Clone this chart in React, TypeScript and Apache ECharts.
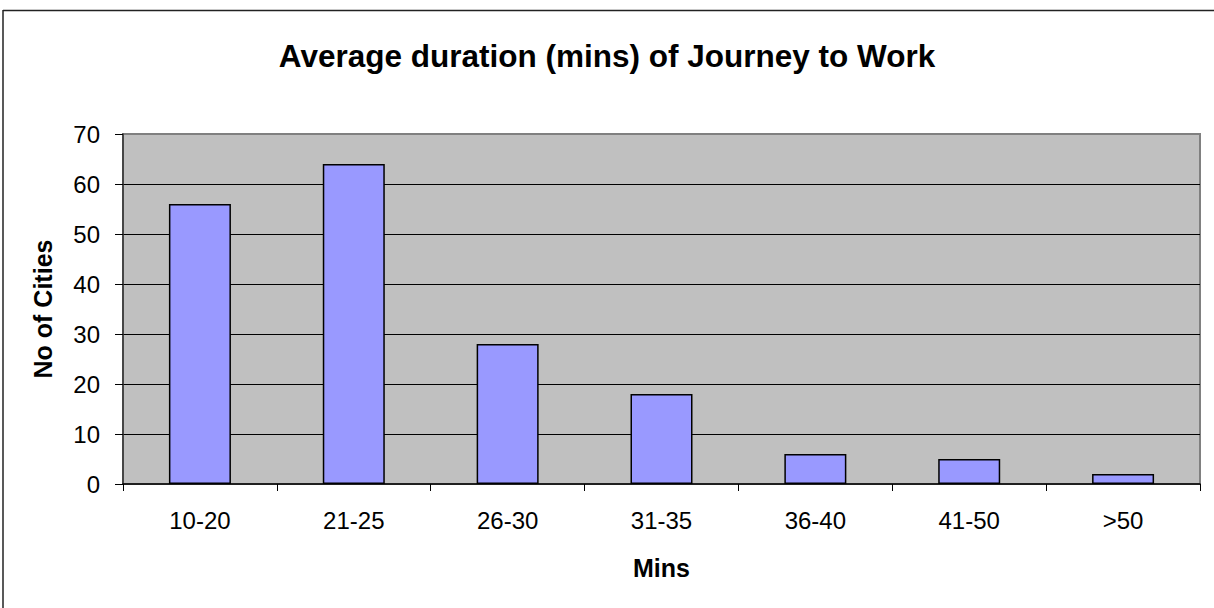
import React, { useEffect, useRef } from "react";
import * as echarts from "echarts";

const titleText = "Average duration (mins) of Journey to Work";
const categories = ["10-20", "21-25", "26-30", "31-35", "36-40", "41-50", ">50"];
const cityCounts = [56, 64, 28, 18, 6, 5, 2];
const yAxisName = "No of Cities";
const xAxisName = "Mins";

const FONT = "'Liberation Sans', Arial, sans-serif";

export default function App() {
  const ref = useRef<HTMLDivElement>(null);
  useEffect(() => {
    if (!ref.current) return;
    const chart = echarts.init(ref.current, undefined, { renderer: "svg" });
    chart.setOption({
      animation: false,
      backgroundColor: "#ffffff",
      title: {
        text: titleText,
        left: "center",
        top: 35,
        textStyle: { fontFamily: FONT, fontSize: 31.5, fontWeight: "bold", color: "#000" },
      },
      grid: {
        left: 123,
        top: 134,
        width: 1077,
        height: 350,
        show: true,
        backgroundColor: "#C0C0C0",
        borderColor: "#808080",
        borderWidth: 2,
      },
      xAxis: {
        type: "category",
        data: categories,
        name: xAxisName,
        nameLocation: "middle",
        nameGap: 71,
        nameTextStyle: { fontFamily: FONT, fontSize: 25, fontWeight: "bold", color: "#000" },
        axisLine: { show: true, lineStyle: { color: "#000", width: 1.5 } },
        axisTick: { show: true, length: 7, lineStyle: { color: "#000" } },
        axisLabel: { fontFamily: FONT, fontSize: 24, color: "#000", margin: 24 },
        splitLine: { show: false },
      },
      yAxis: {
        type: "value",
        min: 0,
        max: 70,
        interval: 10,
        name: yAxisName,
        nameLocation: "middle",
        nameRotate: 90,
        nameGap: 68,
        nameTextStyle: { fontFamily: FONT, fontSize: 25, fontWeight: "bold", color: "#000" },
        axisLine: { show: true, lineStyle: { color: "#333", width: 1.5 } },
        axisTick: { show: true, length: 8, lineStyle: { color: "#000" } },
        axisLabel: { fontFamily: FONT, fontSize: 24, color: "#000", margin: 23 },
        splitLine: { show: true, showMaxLine: false, showMinLine: false, lineStyle: { color: "#000", width: 1 } },
      },
      series: [
        {
          type: "bar",
          data: cityCounts,
          barWidth: 62,
          itemStyle: { color: "#9999FF", borderColor: "#000", borderWidth: 1.5 },
        },
      ],
      graphic: [
        {
          type: "line",
          shape: { x1: 3, y1: 10.5, x2: 1214, y2: 10.5 },
          style: { stroke: "#222", lineWidth: 1.5 },
        },
        {
          type: "line",
          shape: { x1: 3, y1: 10, x2: 3, y2: 608 },
          style: { stroke: "#222", lineWidth: 1.5 },
        },
      ],
    });
    return () => chart.dispose();
  }, []);
  return (
    <div
      ref={ref}
      style={{ position: "fixed", left: 0, top: 0, width: 1214, height: 608 }}
    />
  );
}
